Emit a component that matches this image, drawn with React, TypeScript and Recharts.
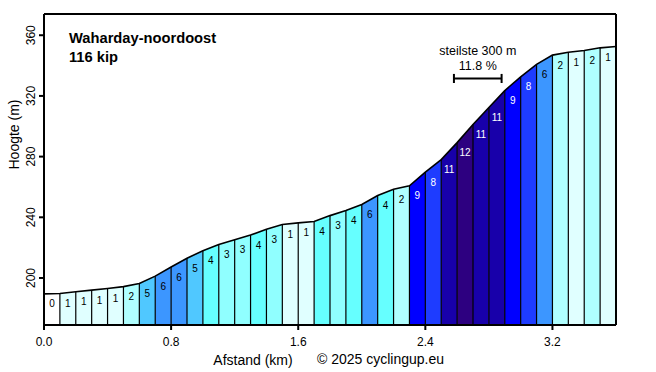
import {
  ComposedChart,
  Area,
  Line,
  Scatter,
  XAxis,
  YAxis,
  ReferenceLine,
  Label,
} from "recharts";

// distance (km) at each 100 m point
const distances = [
  0.0, 0.1, 0.2, 0.3, 0.4, 0.5, 0.6, 0.7, 0.8, 0.9, 1.0, 1.1, 1.2, 1.3, 1.4,
  1.5, 1.6, 1.7, 1.8, 1.9, 2.0, 2.1, 2.2, 2.3, 2.4, 2.5, 2.6, 2.7, 2.8, 2.9,
  3.0, 3.1, 3.2, 3.3, 3.4, 3.5, 3.6,
];

// elevation (m) at each point
const elevations = [
  189.5, 189.8, 190.9, 192.0, 193.1, 194.3, 196.3, 201.2, 207.2, 213.0, 218.0,
  222.0, 225.2, 228.3, 232.1, 235.2, 236.3, 237.2, 241.1, 244.4, 248.4, 254.3,
  258.5, 260.8, 269.8, 278.0, 289.2, 301.2, 312.4, 323.5, 332.6, 340.8, 346.9,
  348.8, 349.9, 351.7, 352.6,
];

// gradient (%) printed in each 100 m segment
const gradients = [
  0, 1, 1, 1, 1, 2, 5, 6, 6, 5, 4, 3, 3, 4, 3, 1, 1, 4, 3, 4, 6, 4, 2, 9, 8,
  11, 12, 11, 11, 9, 8, 6, 2, 1, 2, 1,
];

const xTicks = [0, 0.8, 1.6, 2.4, 3.2];
const yTicks = [200, 240, 280, 320, 360];
const yDomain = [169, 374];

const steepestRange = [2.58, 2.88];
const steepestLevel = 331.5;
const steepestText = ["steilste 300 m", "11.8 %"];

const title = "Waharday-noordoost";
const subtitle = "116 kip";

const gradientColor = (g: number) => {
  if (g <= 0) return "#ffffff";
  if (g === 1) return "#e0ffff";
  if (g === 2) return "#b0ffff";
  if (g === 3) return "#90ffff";
  if (g === 4) return "#66ffff";
  if (g === 5) return "#50c8ff";
  if (g <= 7) return "#3c96ff";
  if (g === 8) return "#1e3cff";
  if (g === 9 || g === 10) return "#0000ff";
  if (g === 11) return "#1800aa";
  return "#2d0080";
};

const rows = distances.map((d, i) => ({ i, x: d, elev: elevations[i] }));

const labelPoints = gradients.map((g, k) => ({
  x: distances[k] + 0.05,
  y: elevations[k],
  g,
}));

const font = "'Liberation Sans', Arial, sans-serif";

const LeftTick = (props: any) => {
  const { x, y, payload } = props;
  return (
    <text
      transform={`translate(${x - 6},${y}) rotate(-90)`}
      textAnchor="middle"
      dominantBaseline="central"
      fontSize={12}
      fill="#000"
      fontFamily={font}
    >
      {payload.value}
    </text>
  );
};

const RightTick = (props: any) => {
  const { x, y, payload } = props;
  return (
    <text
      transform={`translate(${x + 6},${y}) rotate(-90)`}
      textAnchor="middle"
      dominantBaseline="central"
      fontSize={12}
      fill="#000"
      fontFamily={font}
    >
      {payload.value}
    </text>
  );
};

const GradientLabel = (props: any) => {
  const { cx, cy, payload } = props;
  return (
    <text
      x={cx}
      y={cy + 10}
      textAnchor="middle"
      dominantBaseline="central"
      fontSize={10}
      fontFamily={font}
      fill={payload.g >= 8 ? "#ffffff" : "#000000"}
    >
      {payload.g}
    </text>
  );
};

export default function App() {
  return (
    <div
      style={{
        position: "absolute",
        left: 0,
        top: 0,
        width: 656,
        height: 372,
        background: "#fff",
        fontFamily: font,
      }}
    >
      <ComposedChart
        width={656}
        height={372}
        data={rows}
        margin={{ top: 14, right: 0, left: 0, bottom: 0 }}
      >
        <XAxis
          type="number"
          dataKey="x"
          domain={[0, 3.6]}
          ticks={xTicks}
          tickFormatter={(v: number) => v.toFixed(1)}
          height={47}
          tickSize={5}
          tickMargin={7}
          tickLine={{ stroke: "#000", strokeWidth: 2 }}
          axisLine={{ stroke: "#000", strokeWidth: 2 }}
          tick={{ fontSize: 12, fill: "#000", fontFamily: font }}
        >
          <Label
            value="Afstand (km)"
            position="insideBottom"
            offset={7}
            dx={-77}
            fontSize={14}
            fill="#000"
            fontFamily={font}
          />
        </XAxis>
        <YAxis
          yAxisId="left"
          type="number"
          domain={yDomain}
          ticks={yTicks}
          width={44}
          tickSize={5}
          tickMargin={2}
          tickLine={{ stroke: "#000", strokeWidth: 2 }}
          axisLine={{ stroke: "#000", strokeWidth: 2 }}
          tick={<LeftTick />}
        >
          <Label
            value="Hoogte (m)"
            angle={-90}
            position="insideLeft"
            offset={14}
            fontSize={14}
            fill="#000"
            fontFamily={font}
          />
        </YAxis>
        <YAxis
          yAxisId="right"
          orientation="right"
          type="number"
          domain={yDomain}
          ticks={yTicks}
          width={40}
          tickSize={5}
          tickMargin={2}
          tickLine={{ stroke: "#000", strokeWidth: 2 }}
          axisLine={{ stroke: "#000", strokeWidth: 2 }}
          tick={<RightTick />}
        />

        {gradients.map((g, k) => (
          <Area
            key={`seg-${k}`}
            yAxisId="left"
            type="linear"
            dataKey={(row: any) =>
              row.i === k || row.i === k + 1 ? row.elev : null
            }
            stroke="none"
            fill={gradientColor(g)}
            fillOpacity={1}
            connectNulls={false}
            dot={false}
            activeDot={false}
            isAnimationActive={false}
          />
        ))}

        {distances.slice(1, -1).map((d, j) => (
          <ReferenceLine
            key={`div-${j}`}
            yAxisId="left"
            segment={[
              { x: d, y: yDomain[0] },
              { x: d, y: elevations[j + 1] },
            ]}
            stroke="#000"
            strokeWidth={1.2}
          />
        ))}

        <Line
          yAxisId="left"
          type="linear"
          dataKey="elev"
          stroke="#000"
          strokeWidth={1.6}
          dot={false}
          activeDot={false}
          isAnimationActive={false}
        />

        <Scatter
          yAxisId="left"
          data={labelPoints}
          dataKey="y"
          shape={<GradientLabel />}
          isAnimationActive={false}
        />

        {/* top frame of the plot */}
        <ReferenceLine
          yAxisId="left"
          y={yDomain[1]}
          stroke="#000"
          strokeWidth={2}
        />

        <ReferenceLine
          yAxisId="left"
          segment={[
            { x: steepestRange[0], y: steepestLevel },
            { x: steepestRange[1], y: steepestLevel },
          ]}
          stroke="#000"
          strokeWidth={2}
        >
          <Label
            content={(p: any) => {
              const vb = p.viewBox || {};
              const cx = vb.x + (vb.width || 0) / 2;
              const y = vb.y;
              return (
                <g fontFamily={font} fontSize={12.5} fill="#000">
                  <text x={cx} y={y - 23} textAnchor="middle">
                    {steepestText[0]}
                  </text>
                  <text x={cx} y={y - 8} textAnchor="middle">
                    {steepestText[1]}
                  </text>
                </g>
              );
            }}
          />
        </ReferenceLine>
        {steepestRange.map((d, j) => (
          <ReferenceLine
            key={`cap-${j}`}
            yAxisId="left"
            segment={[
              { x: d, y: steepestLevel - 3 },
              { x: d, y: steepestLevel + 3 },
            ]}
            stroke="#000"
            strokeWidth={2}
          />
        ))}
      </ComposedChart>

      <div
        style={{
          position: "absolute",
          left: 69,
          top: 29,
          fontSize: 14.7,
          fontWeight: "bold",
          lineHeight: "19px",
          color: "#000",
        }}
      >
        <div>{title}</div>
        <div>{subtitle}</div>
      </div>
      <div
        style={{
          position: "absolute",
          left: 317,
          top: 351,
          fontSize: 14,
          lineHeight: "16px",
          color: "#000",
        }}
      >
        © 2025 cyclingup.eu
      </div>
    </div>
  );
}
